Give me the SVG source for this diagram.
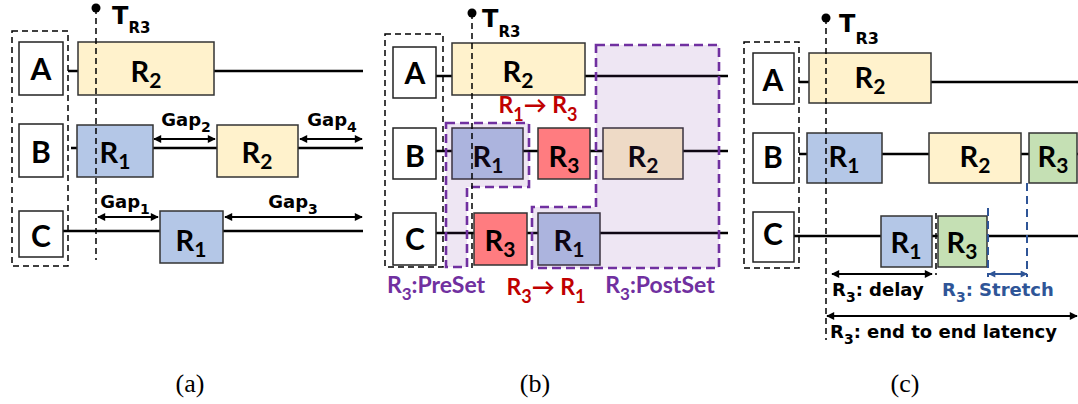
<svg xmlns="http://www.w3.org/2000/svg" width="1078" height="404" viewBox="0 0 1078 404">
<defs>
<style>
text{font-family:Lato,"DejaVu Sans",sans-serif;font-weight:bold;fill:#000}
.dv{font-family:"DejaVu Sans",sans-serif}
.lbl{font-size:30px;text-anchor:middle}
.r{font-size:29px;text-anchor:middle}
.box{stroke:#333;stroke-width:1.5}
.node{fill:#fff;stroke:#222;stroke-width:1.5}
.y{fill:#FFF2CC}
.b{fill:#B4C7E7}
.red{fill:#FF7C80}
.g{fill:#C5E0B4}
.tl{stroke:#000;stroke-width:2.4;fill:none}
.dash{stroke:#000;stroke-width:1.5;fill:none;stroke-dasharray:6,4}
.pdash{stroke:#7030A0;stroke-width:2.6;fill:none;stroke-dasharray:9,5}
.shade{fill:#7030A0;fill-opacity:0.12;stroke:none}
.bdash{stroke:#2F5597;stroke-width:2;fill:none;stroke-dasharray:8,5}
.arr{stroke:#000;stroke-width:1.8;fill:none;marker-start:url(#ah);marker-end:url(#ah)}
.barr{stroke:#2F5597;stroke-width:1.8;fill:none;marker-start:url(#bh);marker-end:url(#bh)}
.gap{font-family:"DejaVu Sans",sans-serif;font-size:18px;text-anchor:middle}
.t{font-family:"DejaVu Sans",sans-serif;font-size:24px}
.rt{font-size:23px;fill:#C00000;text-anchor:middle}
.pt{font-size:23px;fill:#7030A0;text-anchor:middle}
.ann{font-family:"DejaVu Sans",sans-serif;font-size:18px}
.cap{font-family:"Liberation Serif",serif;font-weight:normal;font-size:26px;text-anchor:middle}
</style>
<marker id="ah" viewBox="0 0 10 10" refX="9" refY="5" markerUnits="userSpaceOnUse" markerWidth="9" markerHeight="8" orient="auto-start-reverse"><path d="M0,0 L10,5 L0,10 z" fill="#000"/></marker>
<marker id="bh" viewBox="0 0 10 10" refX="9" refY="5" markerUnits="userSpaceOnUse" markerWidth="8" markerHeight="7" orient="auto-start-reverse"><path d="M0,0 L10,5 L0,10 z" fill="#2F5597"/></marker>
</defs>
<rect width="1078" height="404" fill="#fff"/>

<!-- ================= Panel (a) ================= -->
<g id="connectors-a">
<line class="tl" x1="68" y1="71" x2="363" y2="71"/>
<line class="tl" x1="71" y1="148" x2="363" y2="148"/>
<line class="tl" x1="63" y1="231" x2="363" y2="231"/>
<line class="arr" x1="154" y1="139" x2="215" y2="139"/>
<line class="arr" x1="300" y1="139" x2="362" y2="139"/>
<line class="arr" x1="98" y1="217" x2="158" y2="217"/>
<line class="arr" x1="225" y1="217" x2="362" y2="217"/>
</g>
<g id="a-group"><rect class="dash" x="12" y="31" width="56" height="235"/></g>
<g id="a-A"><rect class="node" x="19" y="42" width="44" height="53"/><text class="lbl" x="41" y="80">A</text></g>
<g id="a-B"><rect class="node" x="19" y="124" width="44" height="53"/><text class="lbl" x="41" y="163">B</text></g>
<g id="a-C"><rect class="node" x="19" y="211" width="44" height="46"/><text class="lbl" x="41" y="247">C</text></g>
<g id="a-A-R2"><rect class="box y" x="78" y="42" width="136" height="53"/><text class="r" x="146" y="82">R<tspan font-size="21" dy="6">2</tspan></text></g>
<g id="a-B-R1"><rect class="box b" x="77" y="125" width="76" height="52"/><text class="r" x="115" y="163">R<tspan font-size="21" dy="6">1</tspan></text></g>
<g id="a-B-R2"><rect class="box y" x="217" y="125" width="81" height="52"/><text class="r" x="257" y="163">R<tspan font-size="21" dy="6">2</tspan></text></g>
<g id="a-C-R1"><rect class="box b" x="160" y="211" width="63" height="52"/><text class="r" x="191" y="251">R<tspan font-size="21" dy="6">1</tspan></text></g>
<g id="a-labels">
<text class="gap" x="186" y="126">Gap<tspan font-size="14" dy="6">2</tspan></text>
<text class="gap" x="332" y="126">Gap<tspan font-size="14" dy="6">4</tspan></text>
<text class="gap" x="125" y="208">Gap<tspan font-size="14" dy="6">1</tspan></text>
<text class="gap" x="293" y="208">Gap<tspan font-size="14" dy="6">3</tspan></text>
</g>
<g id="a-T">
<line class="dash" x1="96" y1="8" x2="96" y2="260"/>
<circle cx="96" cy="8" r="4.5" fill="#000"/>
<text class="t" x="112" y="24">T<tspan font-size="15" dy="9">R3</tspan></text>
</g>

<!-- ================= Panel (b) ================= -->
<g id="connectors-b">
<line class="tl" x1="436" y1="76" x2="728" y2="76"/>
<line class="tl" x1="436" y1="151" x2="728" y2="151"/>
<line class="tl" x1="436" y1="233" x2="728" y2="233"/>
</g>
<g id="b-group"><rect class="dash" x="385" y="34" width="58" height="233"/></g>
<g id="b-A"><rect class="node" x="393" y="47" width="43" height="51"/><text class="lbl" x="415" y="84">A</text></g>
<g id="b-B"><rect class="node" x="393" y="128" width="43" height="51"/><text class="lbl" x="415" y="167">B</text></g>
<g id="b-C"><rect class="node" x="393" y="213" width="43" height="52"/><text class="lbl" x="415" y="250">C</text></g>
<g id="b-A-R2"><rect class="box y" x="452" y="43" width="133" height="52"/><text class="r" x="518" y="82">R<tspan font-size="21" dy="6">2</tspan></text></g>
<g id="b-B-R1"><rect class="box b" x="452" y="128" width="71" height="51"/><text class="r" x="488" y="167">R<tspan font-size="21" dy="6">1</tspan></text></g>
<g id="b-B-R3"><rect class="box red" x="538" y="128" width="52" height="51"/><text class="r" x="564" y="167">R<tspan font-size="21" dy="6">3</tspan></text></g>
<g id="b-B-R2"><rect class="box y" x="603" y="128" width="80" height="51"/><text class="r" x="643" y="167">R<tspan font-size="21" dy="6">2</tspan></text></g>
<g id="b-C-R3"><rect class="box red" x="474" y="213" width="53" height="52"/><text class="r" x="500" y="251">R<tspan font-size="21" dy="6">3</tspan></text></g>
<g id="b-C-R1"><rect class="box b" x="538" y="213" width="62" height="52"/><text class="r" x="569" y="251">R<tspan font-size="21" dy="6">1</tspan></text></g>
<g id="b-preset">
<path class="shade" d="M446,123 H529 V187 H467 V267 H446 Z"/>
<path class="pdash" d="M446,123 H529 V187 H467 V267 H446 Z"/>
</g>
<g id="b-postset">
<path class="shade" d="M596,45 H719 V268 H532 V207 H596 Z"/>
<path class="pdash" d="M596,45 H719 V268 H532 V207 H596 Z"/>
</g>
<g id="b-T">
<line class="dash" x1="472" y1="13" x2="472" y2="268"/>
<circle cx="472" cy="13" r="4.5" fill="#000"/>
<text class="t" x="482" y="27">T<tspan font-size="15" dy="10">R3</tspan></text>
</g>
<g id="b-labels">
<text class="rt" x="538" y="113">R<tspan font-size="18" dy="8">1</tspan><tspan dy="-8">→ R</tspan><tspan font-size="18" dy="8">3</tspan></text>
<text class="rt" x="546" y="295">R<tspan font-size="18" dy="8">3</tspan><tspan dy="-8">→ R</tspan><tspan font-size="18" dy="8">1</tspan></text>
<text class="pt" x="436" y="293">R<tspan font-size="17" dy="7">3</tspan><tspan dy="-7">:PreSet</tspan></text>
<text class="pt" x="660" y="293">R<tspan font-size="17" dy="7">3</tspan><tspan dy="-7">:PostSet</tspan></text>
</g>

<!-- ================= Panel (c) ================= -->
<g id="connectors-c">
<line class="tl" x1="799" y1="82" x2="1078" y2="82"/>
<line class="tl" x1="799" y1="154" x2="1078" y2="154"/>
<line class="tl" x1="794" y1="236" x2="1078" y2="236"/>
<line class="arr" x1="832" y1="274" x2="932" y2="274"/>
<line class="barr" x1="989" y1="274" x2="1027" y2="274"/>
<line class="arr" x1="827" y1="316" x2="1077" y2="316"/>
</g>
<g id="c-group"><rect class="dash" x="744" y="42" width="55" height="226"/></g>
<g id="c-A"><rect class="node" x="753" y="53" width="41" height="51"/><text class="lbl" x="773" y="91">A</text></g>
<g id="c-B"><rect class="node" x="753" y="133" width="41" height="50"/><text class="lbl" x="773" y="168">B</text></g>
<g id="c-C"><rect class="node" x="753" y="212" width="41" height="50"/><text class="lbl" x="773" y="245">C</text></g>
<g id="c-A-R2"><rect class="box y" x="809" y="53" width="122" height="50"/><text class="r" x="870" y="88">R<tspan font-size="21" dy="6">2</tspan></text></g>
<g id="c-B-R1"><rect class="box b" x="807" y="133" width="75" height="50"/><text class="r" x="844" y="167">R<tspan font-size="21" dy="6">1</tspan></text></g>
<g id="c-B-R2"><rect class="box y" x="929" y="133" width="92" height="50"/><text class="r" x="975" y="167">R<tspan font-size="21" dy="6">2</tspan></text></g>
<g id="c-B-R3"><rect class="box g" x="1029" y="133" width="48" height="50"/><text class="r" x="1053" y="167">R<tspan font-size="21" dy="6">3</tspan></text></g>
<g id="c-C-R1"><rect class="box b" x="881" y="216" width="51" height="51"/><text class="r" x="906" y="253">R<tspan font-size="21" dy="6">1</tspan></text></g>
<g id="c-C-R3"><rect class="box g" x="938" y="216" width="49" height="51"/><text class="r" x="962" y="253">R<tspan font-size="21" dy="6">3</tspan></text></g>
<g id="c-marks">
<line class="dash" x1="936" y1="213" x2="936" y2="275" stroke-dasharray="5,3"/>
<line class="bdash" x1="988" y1="208" x2="988" y2="277"/>
<line class="bdash" x1="1027" y1="183" x2="1027" y2="277"/>
</g>
<g id="c-T">
<line class="dash" x1="826" y1="18" x2="826" y2="340"/>
<circle cx="826" cy="18" r="4.5" fill="#000"/>
<text class="t" x="839" y="32" font-size="25">T<tspan font-size="16" dy="12">R3</tspan></text>
</g>
<g id="c-labels">
<text class="ann" x="832" y="296">R<tspan font-size="14" dy="6">3</tspan><tspan dy="-6">: delay</tspan></text>
<text class="ann" x="942" y="296" style="fill:#2F5597">R<tspan font-size="14" dy="6">3</tspan><tspan dy="-6">: Stretch</tspan></text>
<text class="ann" x="830" y="338" font-size="19">R<tspan font-size="14" dy="6">3</tspan><tspan dy="-6">: end to end latency</tspan></text>
</g>

<g id="captions">
<text class="cap" x="190" y="392">(a)</text>
<text class="cap" x="535" y="392">(b)</text>
<text class="cap" x="905" y="392">(c)</text>
</g>
</svg>
